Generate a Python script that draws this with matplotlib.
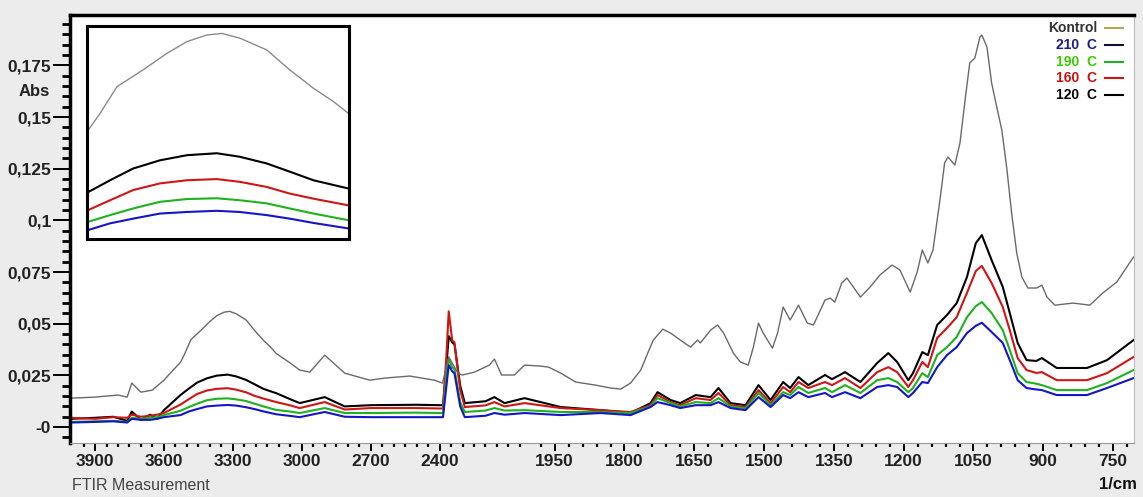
import numpy as np
import matplotlib
matplotlib.use("Agg")
import matplotlib.pyplot as plt
from matplotlib.ticker import FixedLocator, FixedFormatter

plt.rcParams['font.family'] = ['Liberation Sans', 'DejaVu Sans']

# Kontrol spectrum (wavenumber 1/cm, absorbance)
wn_k = [4005, 3900, 3800, 3760, 3740, 3700, 3650, 3600, 3560, 3528, 3509, 3482, 3440, 3402,
        3370, 3338, 3314, 3285, 3242, 3205, 3167, 3135, 3111, 3050, 3009, 2965, 2900, 2813,
        2704, 2639, 2530, 2422, 2387, 2360, 2340,
        2320, 2300, 2248, 2183, 2161, 2130, 2074, 2030, 1980, 1963, 1937, 1905, 1862, 1830,
        1808, 1787, 1765, 1750, 1738, 1723, 1718, 1701, 1680, 1658, 1643, 1637, 1615, 1600,
        1587, 1566, 1551, 1534, 1523, 1512, 1502, 1482, 1471, 1459, 1444, 1426, 1407, 1394,
        1379, 1369, 1358, 1348, 1333, 1322, 1311, 1293, 1272, 1251, 1225, 1208, 1193, 1186,
        1171, 1160, 1148, 1137, 1122, 1112, 1105, 1090, 1079, 1068, 1058, 1047, 1036, 1032,
        1021, 1011, 1000, 989, 978, 968, 957, 946, 933, 914, 903, 892, 875, 836, 800, 772,
        742, 706]
kontrol = [0.0140, 0.0145, 0.0155, 0.0145, 0.0213, 0.0169, 0.0179, 0.0227, 0.0276, 0.0313,
           0.0356, 0.0424, 0.0467, 0.0509, 0.0539, 0.0556, 0.0560, 0.0548, 0.0518, 0.0467,
           0.0420, 0.0386, 0.0356, 0.0310, 0.0276, 0.0266, 0.0348,
           0.0261, 0.0227, 0.0237, 0.0247, 0.0227, 0.0213, 0.0340, 0.0300, 0.0260, 0.0252,
           0.0266, 0.0300, 0.0329, 0.0252, 0.0252, 0.0300, 0.0295, 0.0290, 0.0261, 0.0218,
           0.0203, 0.0189, 0.0184, 0.0213, 0.0276, 0.0358, 0.0421, 0.0460, 0.0474, 0.0455,
           0.0421, 0.0387, 0.0421, 0.0407, 0.0469, 0.0494, 0.0455, 0.0358, 0.0315, 0.0300,
           0.0387, 0.0503, 0.0455, 0.0382, 0.0455, 0.0581, 0.0518, 0.0590, 0.0503, 0.0494,
           0.0566, 0.0615, 0.0624, 0.0605, 0.0697, 0.0721, 0.0687, 0.0629, 0.0678, 0.0736,
           0.0784, 0.0760, 0.0687, 0.0653, 0.0750, 0.0857, 0.0794, 0.0857, 0.1099, 0.1278,
           0.1307, 0.1268, 0.1375, 0.1583, 0.1762, 0.1786, 0.1888, 0.1897, 0.1839, 0.1665,
           0.1549, 0.1437, 0.1244, 0.1036, 0.0842, 0.0726, 0.0673, 0.0673, 0.0687, 0.0629,
           0.0590, 0.0600, 0.0590, 0.0649, 0.0702, 0.0823]

# heat treated samples
wn_t = [4005, 3900, 3820, 3760, 3740, 3700, 3660, 3630, 3600, 3528, 3493, 3456, 3413, 3370,
        3322, 3285, 3242, 3205, 3167, 3111, 3050, 3009, 2900, 2813, 2700, 2500, 2400, 2385,
        2370, 2360, 2345, 2335, 2310, 2290,
        2200, 2161, 2117, 2030, 1937, 1851, 1787, 1744, 1729, 1701, 1680, 1647, 1615, 1598,
        1572, 1540, 1512, 1486, 1459, 1444, 1426, 1405, 1369, 1354, 1326, 1293, 1257, 1233,
        1214, 1190, 1180, 1160, 1148, 1128, 1107, 1086, 1064, 1045, 1032, 1011, 987, 972,
        955, 936, 915, 903, 871, 806, 763, 706]
c120 = [0.0040, 0.0045, 0.0050, 0.0030, 0.0075, 0.0035, 0.0060, 0.0040, 0.0082, 0.0155,
        0.0185, 0.0215, 0.0236, 0.0249, 0.0254, 0.0245, 0.0228, 0.0207, 0.0185, 0.0164,
        0.0135, 0.0116, 0.0145, 0.0100, 0.0106, 0.0108,
        0.0106, 0.0106, 0.0300, 0.0440, 0.0410, 0.0400, 0.0200, 0.0116, 0.0125, 0.0145,
        0.0116, 0.0140, 0.0097, 0.0082, 0.0068, 0.0116, 0.0169, 0.0131, 0.0116, 0.0155,
        0.0145, 0.0189, 0.0116, 0.0106, 0.0203, 0.0131, 0.0218, 0.0189, 0.0242, 0.0203,
        0.0252, 0.0232, 0.0266, 0.0218, 0.0310, 0.0358, 0.0315, 0.0227, 0.0261, 0.0363,
        0.0348, 0.0494, 0.0542, 0.0600, 0.0726, 0.0890, 0.0929, 0.0808, 0.0678, 0.0552,
        0.0407, 0.0324, 0.0320, 0.0334, 0.0286, 0.0286, 0.0324, 0.0421]
c160 = [0.0045, 0.0040, 0.0048, 0.0045, 0.0060, 0.0050, 0.0055, 0.0060, 0.0068, 0.0109,
        0.0134, 0.0160, 0.0177, 0.0185, 0.0188, 0.0181, 0.0168, 0.0151, 0.0138, 0.0121,
        0.0105, 0.0092, 0.0121, 0.0085, 0.0092, 0.0092,
        0.0090, 0.0090, 0.0350, 0.0560, 0.0420, 0.0410, 0.0180, 0.0097, 0.0105, 0.0121,
        0.0100, 0.0116, 0.0092, 0.0082, 0.0073, 0.0106, 0.0155, 0.0121, 0.0106, 0.0140,
        0.0131, 0.0165, 0.0106, 0.0097, 0.0179, 0.0116, 0.0194, 0.0169, 0.0218, 0.0189,
        0.0218, 0.0203, 0.0237, 0.0189, 0.0266, 0.0290, 0.0266, 0.0194, 0.0227, 0.0315,
        0.0290, 0.0431, 0.0479, 0.0532, 0.0649, 0.0755, 0.0780, 0.0697, 0.0581, 0.0469,
        0.0334, 0.0276, 0.0262, 0.0266, 0.0227, 0.0227, 0.0261, 0.0339]
c190 = [0.0025, 0.0028, 0.0030, 0.0025, 0.0045, 0.0040, 0.0045, 0.0048, 0.0058, 0.0079,
        0.0096, 0.0113, 0.0130, 0.0137, 0.0139, 0.0134, 0.0126, 0.0113, 0.0100, 0.0083,
        0.0075, 0.0068, 0.0092, 0.0068, 0.0068, 0.0070,
        0.0068, 0.0068, 0.0250, 0.0330, 0.0290, 0.0280, 0.0120, 0.0073, 0.0080, 0.0092,
        0.0080, 0.0082, 0.0073, 0.0073, 0.0068, 0.0100, 0.0140, 0.0116, 0.0100, 0.0121,
        0.0116, 0.0140, 0.0100, 0.0090, 0.0165, 0.0106, 0.0169, 0.0155, 0.0194, 0.0165,
        0.0189, 0.0169, 0.0203, 0.0165, 0.0227, 0.0237, 0.0218, 0.0169, 0.0189, 0.0261,
        0.0242, 0.0348, 0.0387, 0.0436, 0.0532, 0.0585, 0.0605, 0.0552, 0.0469, 0.0373,
        0.0261, 0.0218, 0.0210, 0.0203, 0.0179, 0.0179, 0.0213, 0.0276]
c210 = [0.0022, 0.0025, 0.0028, 0.0022, 0.0040, 0.0035, 0.0035, 0.0040, 0.0048, 0.0058,
        0.0075, 0.0087, 0.0100, 0.0104, 0.0107, 0.0104, 0.0096, 0.0087, 0.0076, 0.0062,
        0.0054, 0.0048, 0.0073, 0.0050, 0.0048, 0.0048,
        0.0048, 0.0048, 0.0200, 0.0300, 0.0270, 0.0260, 0.0100, 0.0048, 0.0055, 0.0068,
        0.0060, 0.0068, 0.0058, 0.0068, 0.0058, 0.0097, 0.0121, 0.0106, 0.0092, 0.0106,
        0.0106, 0.0121, 0.0092, 0.0082, 0.0145, 0.0097, 0.0155, 0.0140, 0.0169, 0.0145,
        0.0165, 0.0145, 0.0169, 0.0140, 0.0194, 0.0203, 0.0194, 0.0145, 0.0165, 0.0218,
        0.0213, 0.0290, 0.0348, 0.0387, 0.0455, 0.0490, 0.0505, 0.0460, 0.0407, 0.0324,
        0.0227, 0.0189, 0.0182, 0.0179, 0.0155, 0.0155, 0.0189, 0.0237]

series = ["120  C", "160  C", "190  C", "210  C"]
line_colors = ["#000000", "#d01515", "#1fb21f", "#1515c8"]

legend_labels = ["Kontrol", "210  C", "190  C", "160  C", "120  C"]
legend_text_colors = ["#333333", "#1c1c8c", "#3ccc00", "#cc1010", "#000000"]
legend_line_colors = ["#b5a55a", "#111133", "#1fb21f", "#d01515", "#000000"]

y_ticks = [0, 0.025, 0.05, 0.075, 0.1, 0.125, 0.15, 0.175]
y_labels = ["-0", "0,025", "0,05", "0,075", "0,1", "0,125", "0,15", "0,175"]
x_ticks = [3900, 3600, 3300, 3000, 2700, 2400, 1950, 1800, 1650, 1500, 1350, 1200, 1050, 900, 750]


# FTIR style axis: half scale above 2000 1/cm
def fwd(x):
    x = np.asarray(x, dtype=float)
    return np.where(x > 2000, 2000 + (x - 2000) * 0.4936, x)


def inv(x):
    x = np.asarray(x, dtype=float)
    return np.where(x > 2000, 2000 + (x - 2000) / 0.4936, x)


fig = plt.figure(figsize=(11.43, 4.97), dpi=100)
fig.patch.set_facecolor("#ececec")
ax = fig.add_axes([70 / 1143, 54 / 497, 1064 / 1143, 428 / 497])
ax.set_xscale("function", functions=(fwd, inv))

data = [c120, c160, c190, c210]
for vals, name, col in zip(data, series, line_colors):
    ax.plot(wn_t, vals, color=col, lw=1.5, label=name)
ax.plot(wn_k, kontrol, color="#6a6a6a", lw=1.0, label="Kontrol")

ax.set_xlim(4009, 705)
ax.set_ylim(-0.0077, 0.1994)

ax.yaxis.set_major_locator(FixedLocator(y_ticks))
ax.yaxis.set_major_formatter(FixedFormatter(y_labels))
ax.yaxis.set_minor_locator(FixedLocator(np.arange(-0.005, 0.1975, 0.005)))
ax.xaxis.set_major_locator(FixedLocator(x_ticks))
ax.xaxis.set_major_formatter(FixedFormatter([str(t) for t in x_ticks]))
minors = [v for v in range(3950, 2000, -50) if v not in x_ticks]
minors += [v for v in range(1980, 700, -30) if v not in x_ticks]
ax.xaxis.set_minor_locator(FixedLocator(minors))

ax.tick_params(axis="y", which="major", length=12, width=1.4, pad=1.5, direction="out")
ax.tick_params(axis="y", which="minor", length=6, width=2.0, direction="out")
ax.tick_params(axis="x", which="major", length=6, width=1.4, pad=2, direction="out")
ax.tick_params(axis="x", which="minor", length=3, width=1.6, direction="out")
for lab in ax.get_xticklabels() + ax.get_yticklabels():
    lab.set_fontsize(12.5)
    lab.set_fontweight("bold")
    lab.set_color("#222222")

ax.spines["left"].set_linewidth(2.5)
ax.spines["top"].set_linewidth(2.5)
ax.spines["bottom"].set_linewidth(0.8)
ax.spines["bottom"].set_color("#999999")
ax.spines["right"].set_linewidth(0.8)
ax.spines["right"].set_color("#bbbbbb")

ax.text(-0.0188, 0.1625, "Abs", transform=ax.get_yaxis_transform(), ha="right", va="center",
        fontsize=12, fontweight="bold", color="#222222")

# legend drawn by hand, text left of line sample
leg_y = [0.9696, 0.9299, 0.8902, 0.8528, 0.8131]
for lab, tc, lc, yy in zip(legend_labels, legend_text_colors, legend_line_colors, leg_y):
    ax.text(0.9652, yy, lab, transform=ax.transAxes, ha="right", va="center",
            fontsize=10, fontweight="bold", color=tc)
    ax.plot([0.9727, 0.9897], [yy, yy], transform=ax.transAxes, color=lc, lw=1.5)

fig.text(72 / 1143, 1 - 478 / 497, "FTIR Measurement", ha="left", va="top",
         fontsize=11.5, color="#444444")
fig.text(1137 / 1143, 1 - 477 / 497, "1/cm", ha="right", va="top",
         fontsize=12, fontweight="bold", color="#111111")

# zoomed inset of the O-H band
axin = fig.add_axes([87 / 1143, (497 - 239) / 497, 262 / 1143, 213 / 497])
for vals, col in zip(data, line_colors):
    axin.plot(wn_t, vals, color=col, lw=1.5)
axin.plot(wn_k, kontrol, color="#8a8a8a", lw=1.0)
axin.set_xlim(3530, 3110)
axin.set_ylim(0.0035, 0.0579)
axin.set_xticks([])
axin.set_yticks([])
for sp in axin.spines.values():
    sp.set_linewidth(2.2)
    sp.set_color("#000000")

fig.savefig("out.png", dpi=100, facecolor=fig.get_facecolor())
